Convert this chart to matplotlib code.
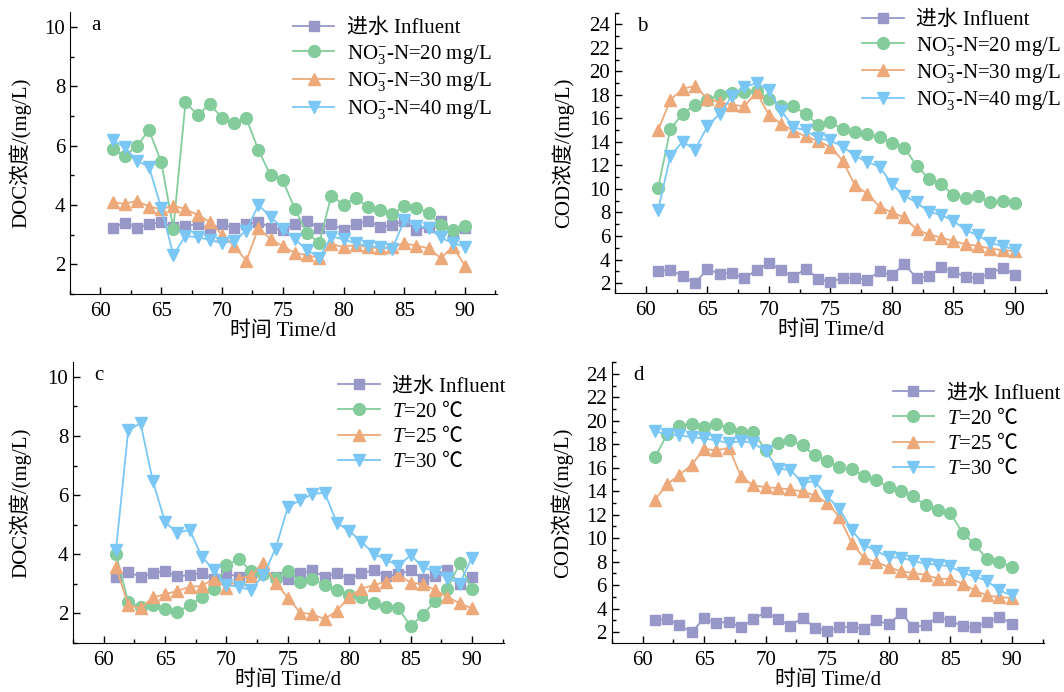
import numpy as np
import matplotlib
matplotlib.use("Agg")
from matplotlib import pyplot as plt
from matplotlib.ticker import MultipleLocator

plt.rcParams['font.family'] = ['Liberation Serif', 'Noto Sans CJK SC']
plt.rcParams['mathtext.fontset'] = 'custom'
plt.rcParams['mathtext.rm'] = 'Liberation Serif'
plt.rcParams['mathtext.it'] = 'Liberation Serif:italic'
plt.rcParams['mathtext.sf'] = 'Noto Sans CJK SC'
plt.rcParams['font.size'] = 15

days = np.arange(61, 91)

# DOC influent (panels a, c)
doc_influent = [3.23, 3.41, 3.23, 3.36, 3.42, 3.25, 3.30, 3.36, 3.16, 3.36,
                3.23, 3.36, 3.44, 3.23, 3.16, 3.36, 3.46, 3.23, 3.36, 3.16,
                3.36, 3.46, 3.27, 3.32, 3.46, 3.16, 3.27, 3.46, 2.98, 3.23]
# COD influent (panels b, d)
cod_influent = [3.00, 3.14, 2.57, 2.00, 3.17, 2.80, 2.85, 2.40, 3.10, 3.70,
                3.12, 2.51, 3.22, 2.37, 2.09, 2.43, 2.43, 2.29, 3.00, 2.65,
                3.62, 2.43, 2.57, 3.32, 2.97, 2.51, 2.40, 2.85, 3.28, 2.72]

# panel a: DOC, nitrate
doc_n20 = [5.89, 5.65, 5.99, 6.52, 5.46, 3.21, 7.46, 7.03, 7.40, 6.94,
           6.75, 6.92, 5.85, 5.00, 4.83, 3.87, 3.05, 2.72, 4.32, 4.01,
           4.25, 3.93, 3.83, 3.69, 3.96, 3.91, 3.74, 3.32, 3.16, 3.30]
doc_n30 = [4.09, 4.04, 4.14, 3.95, 3.86, 3.98, 3.86, 3.67, 3.44, 3.00,
           2.63, 2.12, 3.22, 2.85, 2.62, 2.38, 2.32, 2.21, 2.69, 2.58,
           2.66, 2.58, 2.54, 2.60, 2.71, 2.63, 2.54, 2.21, 2.60, 1.95]
doc_n40 = [6.19, 5.94, 5.49, 5.29, 3.91, 2.32, 2.96, 2.91, 2.83, 2.71,
           2.80, 3.14, 4.00, 3.61, 3.21, 2.85, 2.49, 2.23, 2.94, 2.85,
           2.71, 2.62, 2.58, 2.51, 3.48, 3.31, 3.22, 2.91, 2.71, 2.60]

# panel b: COD, nitrate
cod_n20 = [10.06, 15.12, 16.40, 17.17, 17.60, 18.00, 18.17, 18.25, 18.37, 17.65,
           17.08, 17.03, 16.37, 15.46, 15.69, 15.09, 14.89, 14.67, 14.41, 13.95,
           13.53, 11.99, 10.88, 10.40, 9.49, 9.23, 9.40, 8.86, 8.95, 8.83]
cod_n30 = [14.98, 17.60, 18.51, 18.79, 17.68, 17.40, 17.17, 17.03, 18.22, 16.32,
           15.55, 14.95, 14.47, 14.10, 13.56, 12.42, 10.31, 9.60, 8.49, 8.01,
           7.58, 6.56, 6.13, 5.87, 5.56, 5.30, 5.16, 4.93, 4.79, 4.73]
cod_n40 = [8.21, 12.82, 14.04, 13.33, 15.32, 16.40, 17.88, 18.65, 19.02, 18.39,
           16.66, 15.26, 14.98, 14.32, 14.13, 13.61, 12.82, 12.28, 11.91, 10.40,
           9.43, 8.86, 8.06, 7.78, 7.29, 6.50, 6.05, 5.42, 5.13, 4.85]

# panel c: DOC, temperature
doc_t20 = [4.02, 2.39, 2.22, 2.30, 2.15, 2.06, 2.28, 2.54, 2.84, 3.63,
           3.83, 3.44, 3.35, 3.21, 3.44, 3.07, 3.16, 2.96, 2.79, 2.62,
           2.54, 2.36, 2.22, 2.17, 1.58, 1.94, 2.43, 2.84, 3.69, 2.81]
doc_t25 = [3.57, 2.28, 2.17, 2.54, 2.65, 2.76, 2.90, 2.93, 3.18, 2.87,
           3.18, 3.27, 3.69, 3.04, 2.53, 2.03, 1.97, 1.81, 2.09, 2.56,
           2.84, 2.96, 3.07, 3.31, 3.04, 2.99, 2.79, 2.56, 2.34, 2.17]
doc_t30 = [4.13, 8.20, 8.43, 6.49, 5.09, 4.72, 4.83, 3.91, 3.46, 2.96,
           2.90, 2.79, 3.29, 4.19, 5.60, 5.82, 6.04, 6.08, 5.06, 4.79,
           4.42, 4.02, 3.82, 3.61, 3.97, 3.57, 3.40, 3.20, 3.01, 3.89]

# panel d: COD, temperature
cod_t20 = [16.90, 18.83, 19.54, 19.74, 19.49, 19.69, 19.40, 19.03, 19.03, 17.53,
           18.10, 18.32, 17.90, 17.05, 16.56, 16.05, 15.91, 15.26, 14.92, 14.35,
           14.01, 13.55, 12.79, 12.42, 12.16, 10.46, 9.47, 8.19, 7.96, 7.54]
cod_t25 = [13.27, 14.58, 15.40, 16.25, 17.61, 17.47, 17.70, 15.26, 14.49, 14.35,
           14.26, 14.15, 13.98, 13.64, 12.99, 11.79, 9.58, 8.30, 7.96, 7.54,
           7.17, 7.03, 6.88, 6.54, 6.54, 6.12, 5.55, 5.12, 4.98, 4.90]
cod_t30 = [19.12, 18.83, 18.75, 18.61, 18.49, 18.32, 18.10, 18.27, 18.10, 17.41,
           15.91, 15.82, 14.72, 14.86, 13.55, 12.50, 10.66, 9.44, 8.90, 8.39,
           8.33, 8.05, 7.82, 7.74, 7.59, 7.05, 6.74, 6.35, 5.55, 5.12]

n_labels = ['进水 Influent', r'NO$_3^{-}$-N=20 mg/L', r'NO$_3^{-}$-N=30 mg/L', r'NO$_3^{-}$-N=40 mg/L']
t_labels = ['进水 Influent', r'$T$=20 $\mathsf{℃}$', r'$T$=25 $\mathsf{℃}$', r'$T$=30 $\mathsf{℃}$']

colors = ['#9797C8', '#84CC9C', '#EDA97A', '#7AC7F5']
markers = ['s', 'o', '^', 'v']
msizes = [7, 8.5, 8.5, 8.5]


def panel(fig, rect, series, labels, ylim, letter, ylabel, ylabel_x, leg_anchor, lspace):
    ax = fig.add_axes(rect)
    for y, lab, c, m, ms in zip(series, labels, colors, markers, msizes):
        ax.plot(days, y, color=c, marker=m, markersize=ms, lw=1.3, label=lab)
    ax.set_xlim(57.5, 92.6)
    ax.set_ylim(*ylim)
    ax.xaxis.set_major_locator(MultipleLocator(5))
    ax.xaxis.set_minor_locator(MultipleLocator(2.5))
    ax.yaxis.set_major_locator(MultipleLocator(2))
    ax.yaxis.set_minor_locator(MultipleLocator(1))
    ax.tick_params(which='both', direction='in', top=False, right=False, width=1)
    ax.tick_params(which='major', length=5, labelsize=15)
    ax.tick_params(which='minor', length=3)
    ax.tick_params(axis='x', which='major', pad=6)
    for s in ['top', 'right']:
        ax.spines[s].set_visible(False)
    ax.text(0.05, 0.985, letter, transform=ax.transAxes, fontsize=15, va='top')
    ax.set_xlabel('时间 Time/d', fontsize=15, labelpad=0)
    ax.set_ylabel(ylabel, fontsize=15)
    ax.yaxis.set_label_coords(ylabel_x, 0.5)
    ax.legend(loc='upper left', bbox_to_anchor=leg_anchor, frameon=False,
              fontsize=15, handlelength=2.0, handletextpad=0.6,
              labelspacing=lspace, borderaxespad=0, borderpad=0)
    return ax


fig = plt.figure(figsize=(10.64, 6.92), dpi=100)

panel(fig, [0.0658, 0.575, 0.401, 0.4075],
      [doc_influent, doc_n20, doc_n30, doc_n40], n_labels,
      (1.0, 10.5), 'a', 'DOC浓度/(mg/L)', -0.09, (0.522, 0.977), 0.22)
panel(fig, [0.578, 0.5766, 0.406, 0.405],
      [cod_influent, cod_n20, cod_n30, cod_n40], n_labels,
      (1.15, 25.0), 'b', 'COD浓度/(mg/L)', -0.095, (0.572, 1.007), 0.2)
panel(fig, [0.0686, 0.0708, 0.405, 0.406],
      [doc_influent, doc_t20, doc_t25, doc_t30], t_labels,
      (1.0, 10.5), 'c', 'DOC浓度/(mg/L)', -0.097, (0.615, 0.947), 0.2)
panel(fig, [0.575, 0.0708, 0.406, 0.406],
      [cod_influent, cod_t20, cod_t25, cod_t30], t_labels,
      (1.07, 25.0), 'd', 'COD浓度/(mg/L)', -0.09, (0.65, 0.922), 0.2)

fig.savefig('out.png', dpi=100)
